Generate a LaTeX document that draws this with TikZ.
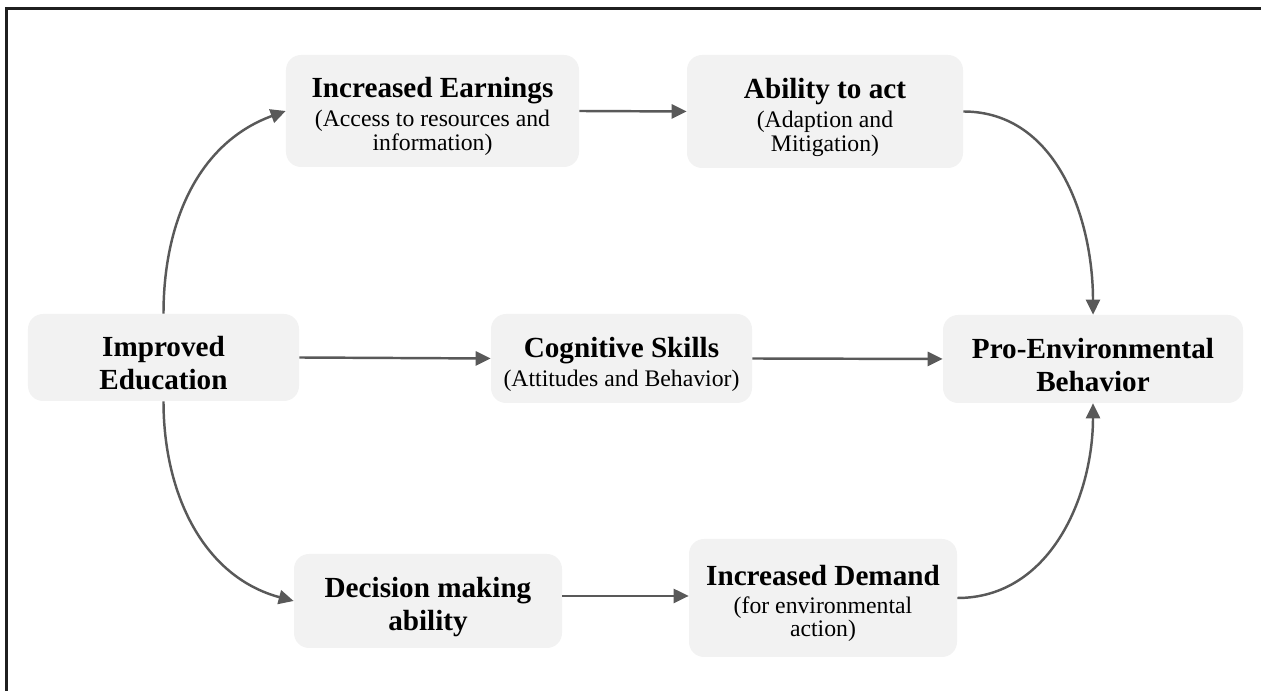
\documentclass[tikz,border=0pt]{standalone}
\usepackage{fontspec}
\setmainfont{Liberation Serif}
\usetikzlibrary{arrows.meta}
\definecolor{caixa}{HTML}{F2F2F2}
\definecolor{seta}{HTML}{595959}
\newcommand{\topo}{\rule{0pt}{18pt}}
\newcommand{\titulo}[1]{{\fontsize{16.6}{18}\selectfont\bfseries\topo #1}}

\begin{document}
\begin{tikzpicture}[x=0.2mm,y=0.2mm,
	bloco/.style={fill=caixa, rounded corners=3mm, inner sep=0pt, align=center, font=\fontsize{13.5}{13.6}\selectfont},
	negrito/.style={font=\fontsize{16.6}{18.8}\selectfont\bfseries},
	liga/.style={draw=seta, line width=1.4pt, -{Triangle[length=8.5pt,width=8pt]}}] %Início do diagrama
	\useasboundingbox (0,0) rectangle (1261,691);
	\draw[line width=1.6pt, color=black!88] (1261,682.5) -- (6.5,682.5) -- (6.5,0); %Moldura
		%Caixas
	\node[bloco, negrito, minimum width=54.2mm, minimum height=17.4mm] (edu) at (163.5,333.5) {\topo Improved\\Education};
	\node[bloco, minimum width=58.6mm, minimum height=22.4mm] (earn) at (432.5,580) {\titulo{Increased Earnings}\\[3pt](Access to resources and\\information)};
	\node[bloco, minimum width=55.2mm, minimum height=22.6mm] (act) at (825,579.5) {\titulo{Ability to act}\\[3pt](Adaption and\\Mitigation)};
	\node[bloco, minimum width=52.2mm, minimum height=17.8mm] (cog) at (621.5,332.5) {\titulo{Cognitive Skills}\\[3pt](Attitudes and Behavior)};
	\node[bloco, negrito, minimum width=60mm, minimum height=17.6mm] (pro) at (1093,332) {\topo Pro-Environmental\\Behavior};
	\node[bloco, negrito, minimum width=53.6mm, minimum height=18.8mm] (dec) at (428,90) {\topo Decision making\\ability};
	\node[bloco, minimum width=53.6mm, minimum height=23.6mm] (dem) at (823,93) {\titulo{Increased Demand}\\[2pt](for environmental\\action)};
		%Setas
	\draw[liga] (edu.north) to[out=90, in=200] (earn.west);
	\draw[liga] (earn.east) -- (act.west);
	\draw[liga] (act.east) to[out=0, in=90] (pro.north);
	\draw[liga] (edu.east) -- (cog.west);
	\draw[liga] (cog.east) -- (pro.west);
	\draw[liga] (edu.south) to[out=-90, in=165] (dec.west);
	\draw[liga] ([yshift=1mm]dec.east) -- ([yshift=1mm]dec.east -| dem.west);
	\draw[liga] (dem.east) to[out=0, in=-90] (pro.south);
\end{tikzpicture}
\end{document}
